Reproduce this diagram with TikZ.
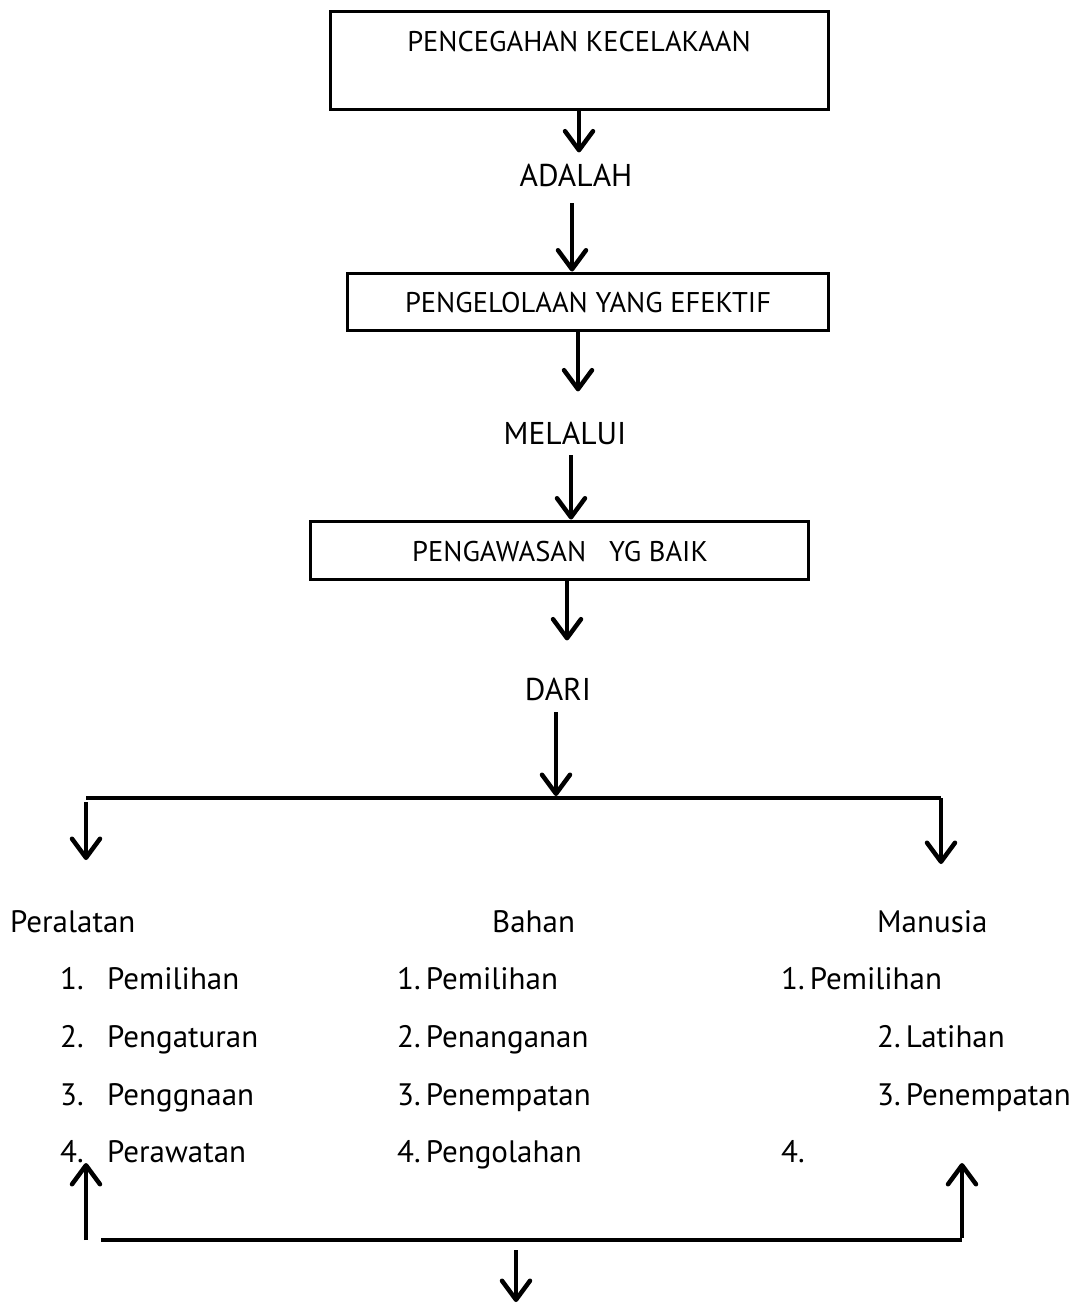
\documentclass[tikz,border=0pt]{standalone}
\usepackage{fontspec}
\setmainfont{PT Sans}
\usetikzlibrary{arrows.meta}
\begin{document}
\begin{tikzpicture}[x=1pt,y=-1pt,
  box/.style={draw, line width=3pt, inner sep=0pt},
  boxtxt/.style={font=\fontsize{28.5}{32}\selectfont, anchor=base, inner sep=0pt},
  lbl/.style={font=\fontsize{31.5}{36}\selectfont, anchor=base, inner sep=0pt},
  item/.style={font=\fontsize{31}{36}\selectfont, anchor=base west, inner sep=0pt},
  arr/.style={line width=4.5pt, -{Straight Barb[length=19pt,width=28pt,round]}},
  ln/.style={line width=4.5pt}]
\useasboundingbox (0,0) rectangle (1082,1303);
% boxes and labels
\node[box, minimum width=498pt, minimum height=98pt] (b1) at (579,61) {};
\node[boxtxt] (t1) at (579,52) {PENCEGAHAN KECELAKAAN};
\node[lbl] (adalah) at (576,186) {ADALAH};
\node[box, minimum width=481pt, minimum height=57pt] (b2) at (587.5,301.5) {};
\node[boxtxt] (t2) at (588,312) {PENGELOLAAN YANG EFEKTIF};
\node[lbl] (melalui) at (565,444) {MELALUI};
\node[box, minimum width=498pt, minimum height=58pt] (b3) at (559,550) {};
\node[boxtxt] (t3) at (560,561) {PENGAWASAN\ \ \ YG BAIK};
\node[lbl] (dari) at (558,700) {DARI};
% vertical chain
\draw[arr, shorten >=11pt] (b1.south) -- (b1.south |- adalah.north);
\draw[arr, shorten <=17pt] ([xshift=-4pt]adalah.south) -- ([xshift=-4pt]adalah.south |- b2.north);
\draw[arr, shorten >=30pt] ([xshift=-9.5pt]b2.south) -- ([xshift=-9.5pt]b2.south |- melalui.north);
\draw[arr, shorten <=11pt] ([xshift=6pt]melalui.south) -- ([xshift=6pt]melalui.south |- b3.north);
\draw[arr, shorten >=37pt] ([xshift=8pt]b3.south) -- ([xshift=8pt]b3.south |- dari.north);
% branching
\coordinate (jtop) at (556,796);
\coordinate (jl) at (86,798);
\coordinate (jr) at (941,798);
\coordinate (jlend) at (86,860);
\coordinate (jrend) at (941,864);
\draw[arr, shorten <=12pt] ([xshift=-2pt]dari.south) -- (jtop);
\draw[ln] (jl) -- (jr);
\draw[arr] ([yshift=-4pt]jl) -- (jlend);
\draw[arr] (jr) -- (jrend);
% columns
\node[item] (peralatan) at (10,932) {Peralatan};
\node[item] (bahan) at (492,932) {Bahan};
\node[item] (manusia) at (877,932) {Manusia};
\node[item] (pa1) at (60,989) {\makebox[47pt][l]{1.}Pemilihan};
\node[item] (pa2) at (60,1047) {\makebox[47pt][l]{2.}Pengaturan};
\node[item] (pa3) at (60,1105) {\makebox[47pt][l]{3.}Penggnaan};
\node[item] (pa4) at (60,1162) {\makebox[47pt][l]{4.}Perawatan};
\node[item] (ba1) at (397,989) {1.\,Pemilihan};
\node[item] (ba2) at (397,1047) {2.\,Penanganan};
\node[item] (ba3) at (397,1105) {3.\,Penempatan};
\node[item] (ba4) at (397,1162) {4.\,Pengolahan};
\node[item] (ma1) at (781,989) {1.\,Pemilihan};
\node[item] (ma2) at (877,1047) {2.\,Latihan};
\node[item] (ma3) at (877,1105) {3.\,Penempatan};
\node[item] (ma4) at (781,1162) {4.};
% bottom feedback
\coordinate (bl) at (86,1240);
\coordinate (blend) at (86,1163);
\coordinate (bls) at (101,1240);
\coordinate (br) at (962,1240);
\coordinate (brend) at (962,1163);
\coordinate (bd) at (516,1250);
\coordinate (bdend) at (516,1302);
\draw[arr] (bl) -- (blend);
\draw[ln] (bls) -- (br);
\draw[arr] ([yshift=2.25pt]br) -- (brend);
\draw[arr] (bd) -- (bdend);
\end{tikzpicture}
\end{document}
